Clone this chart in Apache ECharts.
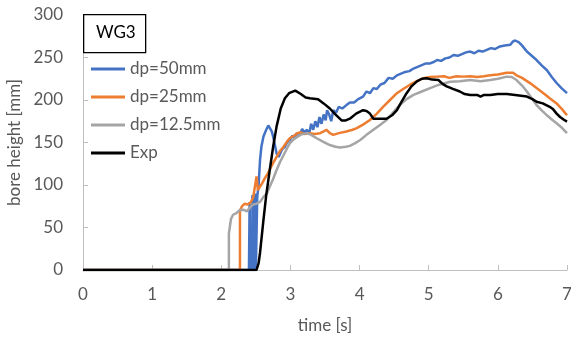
<!DOCTYPE html>
<html><head><meta charset="utf-8">
<script src="https://cdn.jsdelivr.net/npm/echarts@6/dist/echarts.min.js"></script>
<style>html,body{margin:0;padding:0;background:#fff}#c{width:571px;height:339px}</style>
</head><body><div id="c"></div>
<script>
const seriesNames = ['dp=50mm', 'dp=25mm', 'dp=12.5mm', 'Exp'];
const xTicks = [0, 1, 2, 3, 4, 5, 6, 7];
const yTicks = [0, 50, 100, 150, 200, 250, 300];

const blueData = [[0,0],[2.40,0],[2.41,0],[2.41,80],[2.42,78],[2.42,0],[2.45,0],[2.45,88],[2.46,85],[2.46,0],[2.49,0],[2.49,90],[2.50,82],[2.50,0],[2.52,0],[2.52,86],[2.54,100],[2.56,129],[2.58,145],[2.61,157],[2.65,165],[2.68,170],[2.70,169],[2.73,163],[2.75,157],[2.78,145],[2.80,137],[2.83,133],[2.85,135],[2.88,142],[2.92,145],[2.95,150],[2.99,153],[3.03,158],[3.06,155],[3.09,161],[3.13,158],[3.17,166],[3.20,162],[3.24,165],[3.27,160],[3.30,172],[3.33,165],[3.36,175],[3.39,168],[3.42,180],[3.45,172],[3.48,183],[3.51,176],[3.53,188],[3.56,183],[3.59,175],[3.62,188],[3.66,185],[3.70,192],[3.75,190],[3.81,194],[3.86,197],[3.92,197],[3.98,201],[4.05,204],[4.10,210],[4.15,208],[4.20,214],[4.25,213],[4.30,218],[4.36,220],[4.42,226],[4.48,225],[4.54,229],[4.60,231],[4.66,233],[4.72,234],[4.78,237],[4.84,239],[4.90,241],[4.96,243],[5.02,243],[5.08,245],[5.12,247],[5.18,246],[5.24,249],[5.30,250],[5.36,253],[5.42,252],[5.48,254],[5.54,256],[5.60,257],[5.66,255],[5.72,258],[5.78,257],[5.84,259],[5.90,261],[5.96,260],[6.03,263],[6.10,264],[6.18,265],[6.22,269],[6.25,270],[6.30,268],[6.34,265],[6.38,261],[6.42,257],[6.49,252],[6.56,247],[6.63,241],[6.71,235],[6.78,227],[6.85,220],[6.92,214],[7.0,208]];

const orangeData = [[0,0],[2.27,0],[2.27,70],[2.30,75],[2.34,78],[2.38,77],[2.42,79],[2.46,85],[2.49,100],[2.51,110],[2.53,94],[2.56,98],[2.59,102],[2.63,108],[2.67,113],[2.70,118],[2.75,126],[2.80,133],[2.85,140],[2.90,145],[2.95,151],[2.99,155],[3.05,158],[3.10,161],[3.15,162],[3.20,160],[3.28,161],[3.35,160],[3.43,161],[3.48,163],[3.52,165],[3.57,161],[3.62,159],[3.70,161],[3.81,163],[3.90,165],[3.96,167],[4.05,171],[4.15,176.5],[4.25,184],[4.34,192],[4.44,200],[4.54,208],[4.63,213],[4.73,218],[4.82,222],[4.92,225.5],[5.02,227],[5.12,227.5],[5.22,228],[5.30,226],[5.40,228],[5.50,227.5],[5.60,228],[5.70,227],[5.80,228],[5.89,229],[6.00,230],[6.13,232],[6.22,232],[6.27,229],[6.35,226],[6.47,219.6],[6.56,214],[6.66,208],[6.75,202],[6.85,196],[6.93,189],[7.0,182]];

const grayData = [[0,0],[2.11,0],[2.11,43],[2.13,44],[2.14,60],[2.17,65],[2.22,67],[2.27,70.6],[2.32,71],[2.37,69],[2.42,74],[2.46,77],[2.51,78],[2.56,80],[2.61,86],[2.66,90],[2.70,98],[2.75,107],[2.80,117.6],[2.85,127],[2.90,135],[2.95,143],[2.99,149],[3.05,154],[3.14,159],[3.24,161],[3.30,159],[3.38,155],[3.47,151],[3.57,147],[3.65,145],[3.72,144],[3.80,145],[3.86,146],[3.93,149],[4.01,153],[4.10,159],[4.20,165],[4.30,171],[4.39,176.5],[4.48,185],[4.58,194],[4.68,201],[4.78,206],[4.90,210],[5.02,214],[5.15,218],[5.31,221.5],[5.45,222],[5.60,223.5],[5.75,222],[5.89,223.5],[6.00,225],[6.13,227.5],[6.20,227],[6.27,223.5],[6.35,217],[6.42,210],[6.49,202],[6.56,194],[6.63,188],[6.71,182],[6.78,177],[6.85,172.6],[6.93,167],[7.0,161]];

const expData = [[0,0],[2.45,0],[2.51,0],[2.54,8],[2.56,20],[2.61,59],[2.65,88],[2.70,117],[2.75,145],[2.80,169],[2.86,190],[2.92,202],[2.98,208],[3.07,211],[3.15,207],[3.22,203],[3.28,202],[3.40,201],[3.48,196],[3.57,190],[3.65,183],[3.74,176],[3.80,176],[3.86,178],[3.95,184],[4.05,188],[4.10,187],[4.15,184],[4.20,178],[4.30,178],[4.39,178],[4.47,182],[4.54,188],[4.60,197],[4.68,208],[4.75,216],[4.83,222],[4.90,225],[4.97,225.5],[5.05,224],[5.14,223.5],[5.20,219],[5.26,216],[5.35,213],[5.45,210],[5.52,207],[5.60,206],[5.70,206],[5.75,204],[5.80,206],[5.89,206],[6.0,207],[6.13,207],[6.25,206],[6.42,204],[6.50,201],[6.56,198],[6.65,196],[6.75,192],[6.80,189],[6.85,184],[6.90,180],[6.95,177],[7.0,174.5]];

const colors = ['#4472C4', '#ED7D31', '#A5A5A5', '#000000'];
const allData = [blueData, orangeData, grayData, expData];
const FONT = 'Lato, "Open Sans", sans-serif';

const chart = echarts.init(document.getElementById('c'), null, {renderer: 'canvas'});
chart.setOption({
  animation: false,
  backgroundColor: '#fff',
  grid: {left: 83, right: 4, top: 15, bottom: 69, containLabel: false, outerBoundsMode: 'none'},
  xAxis: {
    type: 'value', min: xTicks[0], max: xTicks[xTicks.length - 1], interval: 1,
    name: 'time [s]', nameLocation: 'middle', nameGap: 47,
    nameTextStyle: {color: '#595959', fontSize: 17, fontFamily: FONT},
    axisLine: {show: true, lineStyle: {color: '#BFBFBF', width: 1}},
    axisTick: {show: true, inside: true, length: 5, lineStyle: {color: '#BFBFBF'}},
    axisLabel: {color: '#595959', fontSize: 17, fontFamily: FONT, margin: 16},
    splitLine: {show: false}
  },
  yAxis: {
    type: 'value', min: yTicks[0], max: yTicks[yTicks.length - 1], interval: 50,
    name: 'bore height [mm]', nameLocation: 'middle', nameGap: 56, nameRotate: 90,
    nameTextStyle: {color: '#595959', fontSize: 17, fontFamily: FONT},
    axisLine: {show: true, lineStyle: {color: '#BFBFBF', width: 1}},
    axisTick: {show: true, inside: true, length: 5, lineStyle: {color: '#BFBFBF'}},
    axisLabel: {color: '#595959', fontSize: 17, fontFamily: FONT, margin: 20},
    splitLine: {show: false}
  },
  legend: {
    orient: 'vertical', left: 86, top: 55,
    itemWidth: 34, itemHeight: 3, itemGap: 10, icon: 'rect',
    textStyle: {color: '#595959', fontSize: 17, fontFamily: FONT, lineHeight: 18},
    data: seriesNames
  },
  series: seriesNames.map((n, i) => ({
    name: n, type: 'line', data: allData[i], showSymbol: false, symbol: 'none',
    lineStyle: {color: colors[i], width: 2.5}, itemStyle: {color: colors[i]},
    z: 2 + i
  })),
  graphic: [
    {type: 'rect', left: 83, top: 14, shape: {width: 62, height: 38},
     style: {fill: '#fff', stroke: '#000', lineWidth: 1.3}, z: 100},
    {type: 'text', left: 96, top: 24,
     style: {text: 'WG3', fill: '#000', fontSize: 17, fontFamily: FONT}, z: 101}
  ]
});
</script></body></html>
